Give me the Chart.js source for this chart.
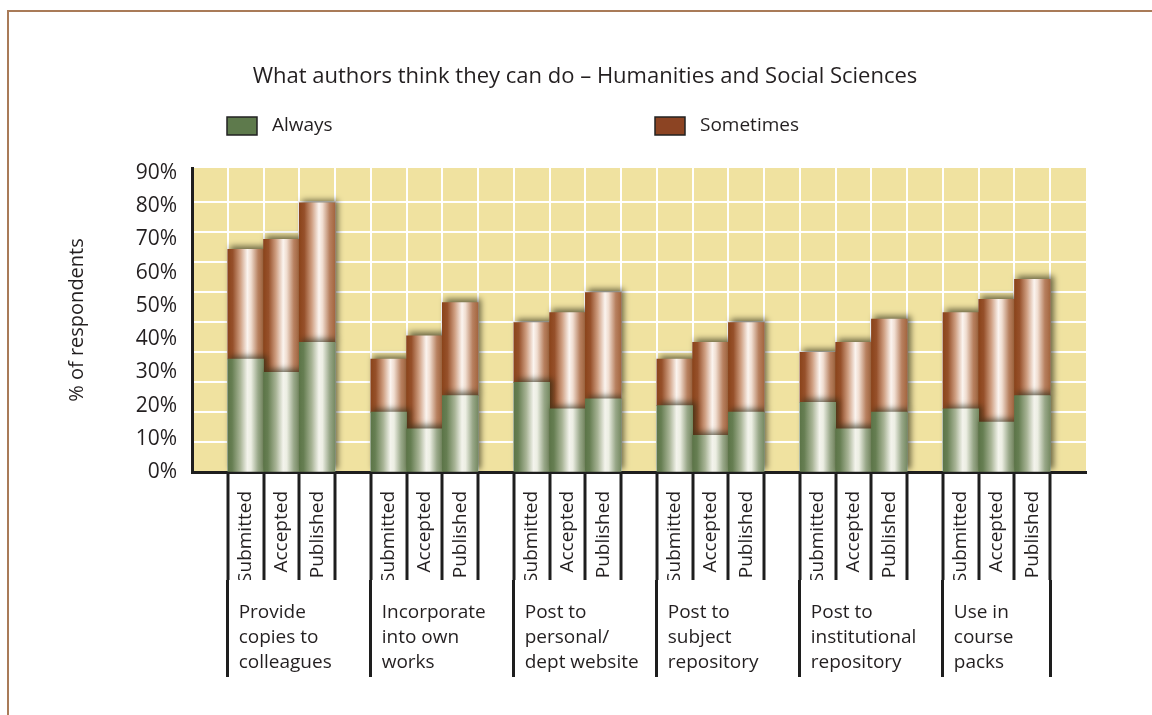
<!DOCTYPE html>
<html>
<head>
<meta charset="utf-8">
<script src="https://cdn.jsdelivr.net/npm/chart.js@4.4.0/dist/chart.umd.min.js"></script>
<style>
  html, body { margin: 0; padding: 0; background: #fff; }
  #wrap { width: 1152px; height: 715px; position: relative; }
</style>
</head>
<body>
<div id="wrap"><canvas id="myChart"></canvas></div>
<script>
var groups = [
    ["Provide", "copies to", "colleagues"],
    ["Incorporate", "into own", "works"],
    ["Post to", "personal/", "dept website"],
    ["Post to", "subject", "repository"],
    ["Post to", "institutional", "repository"],
    ["Use in", "course", "packs"]
];
var stages = ["Submitted", "Accepted", "Published"];
// % of respondents, 3 stages per group
var always    = [34, 30, 39, 18, 13, 23, 27, 19, 22, 20, 11, 18, 21, 13, 18, 19, 15, 23];
var sometimes = [33, 40, 42, 16, 28, 28, 18, 29, 32, 14, 28, 27, 15, 26, 28, 29, 37, 35];

var ink = '#231f20';
var font = "'Open Sans', sans-serif";
Chart.defaults.font.family = font;
Chart.defaults.color = ink;

// one empty slot before every group and after the last one
var labels = [""], groupLabels = [""], alwaysData = [null], sometimesData = [null];
groups.forEach(function (g, gi) {
    stages.forEach(function (s, si) {
        labels.push(s);
        groupLabels.push(si === 0 ? g : "");
        alwaysData.push(always[gi * 3 + si]);
        sometimesData.push(sometimes[gi * 3 + si]);
    });
    labels.push("");
    groupLabels.push("");
    alwaysData.push(null);
    sometimesData.push(null);
});

// long separator lines: left edge of each group + right edge of the last group
function isGroupEdge(i) {
    if (i === undefined) return false;
    if (i === labels.length - 1) return true;
    return i >= 1 && i < labels.length - 1 && (i - 1) % 4 === 0;
}

function barFill(stops, flat) {
    return function (c) {
        var chart = c.chart, xs = chart.scales.x;
        if (!chart.chartArea || !xs || c.dataIndex === undefined) return flat;
        var cx = xs.getPixelForValue(c.dataIndex);
        var half = (xs.right - xs.left) / labels.length / 2;
        var g = chart.ctx.createLinearGradient(cx - half, 0, cx + half, 0);
        stops.forEach(function (s) { g.addColorStop(s[0], s[1]); });
        return g;
    };
}

var greenStops = [[0, '#5c7548'], [0.12, '#667e52'], [0.35, '#a8b496'], [0.55, '#f3f3ec'], [0.65, '#eceee3'], [0.85, '#98a788'], [1, '#768a62']];
var brownStops = [[0, '#8b441b'], [0.14, '#96502a'], [0.35, '#cf9f82'], [0.55, '#fbf4ef'], [0.65, '#f0ddd0'], [0.85, '#b7805f'], [1, '#a4663f']];

var decor = {
    id: 'decor',
    beforeDraw: function (chart) {
        var ctx = chart.ctx, a = chart.chartArea;
        ctx.save();
        // outer frame (top + left)
        ctx.strokeStyle = '#a97b58';
        ctx.lineWidth = 2;
        ctx.beginPath();
        ctx.moveTo(8, chart.height);
        ctx.lineTo(8, 11);
        ctx.lineTo(chart.width, 11);
        ctx.stroke();
        // plot background
        ctx.fillStyle = '#f0e2a0';
        ctx.fillRect(a.left, a.top, a.right - a.left, a.bottom - a.top);
        ctx.restore();
    },
    beforeDatasetsDraw: function (chart) {
        var ctx = chart.ctx;
        ctx.save();
        ctx.shadowColor = 'rgba(40, 40, 20, 0.65)';
        ctx.shadowBlur = 6;
        ctx.shadowOffsetX = 3;
        ctx.shadowOffsetY = -3;
    },
    afterDatasetsDraw: function (chart) {
        chart.ctx.restore();
    },
    afterDraw: function (chart) {
        var ctx = chart.ctx;
        var legendX = [227, 655];
        ctx.save();
        chart.data.datasets.forEach(function (ds, i) {
            var x = legendX[i], y = 117;
            ctx.fillStyle = ds.legendColor;
            ctx.fillRect(x, y, 30, 18);
            ctx.strokeStyle = '#222';
            ctx.lineWidth = 1.5;
            ctx.strokeRect(x, y, 30, 18);
            ctx.fillStyle = ink;
            ctx.font = "19px " + font;
            ctx.textBaseline = 'middle';
            ctx.textAlign = 'left';
            ctx.fillText(ds.label, x + 45, y + 9);
        });
        ctx.restore();
    }
};

var ctx = document.getElementById('myChart');

const myChart = new Chart(ctx, {
    type: "bar",
    data: {
        labels: labels,
        datasets: [
            {
                label: "Always",
                data: alwaysData,
                legendColor: '#5e7a4c',
                backgroundColor: barFill(greenStops, '#7d9068'),
                borderWidth: 0
            },
            {
                label: "Sometimes",
                data: sometimesData,
                legendColor: '#8c4423',
                backgroundColor: barFill(brownStops, '#a9643c'),
                borderWidth: 0
            }
        ]
    },
    plugins: [decor],
    options: {
        responsive: true,
        maintainAspectRatio: false,
        animation: false,
        barPercentage: 1,
        categoryPercentage: 1,
        layout: {
            padding: { top: 0, right: 66, bottom: 38, left: 84 }
        },
        plugins: {
            legend: { display: false },
            tooltip: { enabled: false },
            title: {
                display: true,
                text: "What authors think they can do \u2013 Humanities and Social Sciences",
                color: ink,
                font: { size: 22, weight: 'normal' },
                padding: { top: 64, bottom: 77.6 }
            }
        },
        scales: {
            x: {
                stacked: true,
                offset: true,
                weight: 0,
                border: { display: true, color: '#1e1e1e', width: 3 },
                grid: {
                    offset: true,
                    drawOnChartArea: true,
                    color: function (c) {
                        return (c.index > 0 && c.index < labels.length) ? '#ffffff' : 'rgba(0,0,0,0)';
                    },
                    lineWidth: 2,
                    drawTicks: true,
                    tickLength: 108,
                    tickColor: '#1e1e1e',
                    tickWidth: function (c) {
                        return (c.index > 0 && c.index < labels.length) ? 3 : 0;
                    }
                },
                ticks: {
                    autoSkip: false,
                    minRotation: 90,
                    maxRotation: 90,
                    padding: -89,
                    color: ink,
                    font: { size: 19 }
                },
                afterFit: function (s) { s.height = 108; }
            },
            xg: {
                type: 'category',
                position: 'bottom',
                labels: groupLabels,
                offset: true,
                weight: 1,
                border: { display: false },
                grid: {
                    offset: true,
                    drawOnChartArea: false,
                    drawTicks: true,
                    tickLength: 97,
                    tickColor: '#1e1e1e',
                    tickWidth: function (c) { return isGroupEdge(c.index) ? 3 : 0; }
                },
                ticks: {
                    autoSkip: false,
                    minRotation: 0,
                    maxRotation: 0,
                    align: 'start',
                    labelOffset: -7,
                    padding: -77,
                    color: ink,
                    font: { size: 19, lineHeight: 25 / 19 }
                },
                afterFit: function (s) { s.height = 97; }
            },
            y: {
                stacked: true,
                position: 'left',
                min: 0,
                max: 91.5,
                border: { display: true, color: '#1e1e1e', width: 3 },
                grid: { drawOnChartArea: false, drawTicks: false },
                ticks: {
                    stepSize: 10,
                    includeBounds: false,
                    padding: 15,
                    color: ink,
                    font: { size: 21 },
                    callback: function (v) { return v + '%'; }
                },
                title: {
                    display: true,
                    text: "% of respondents",
                    color: ink,
                    font: { size: 20 },
                    padding: { top: -19, bottom: 0 }
                },
                afterFit: function (s) { s.width = 108; }
            },
            // background grid of the plot (its own spacing in the original)
            yg: {
                position: 'left',
                min: 0,
                max: 10.13,
                border: { display: false },
                grid: { color: '#ffffff', lineWidth: 2, drawTicks: false },
                ticks: { display: false, stepSize: 1 },
                afterBuildTicks: function (s) {
                    s.ticks = s.ticks.filter(function (t) { return t.value > 0 && t.value < 10; });
                },
                afterFit: function (s) { s.width = 0; }
            }
        }
    }
});
</script>
</body>
</html>
